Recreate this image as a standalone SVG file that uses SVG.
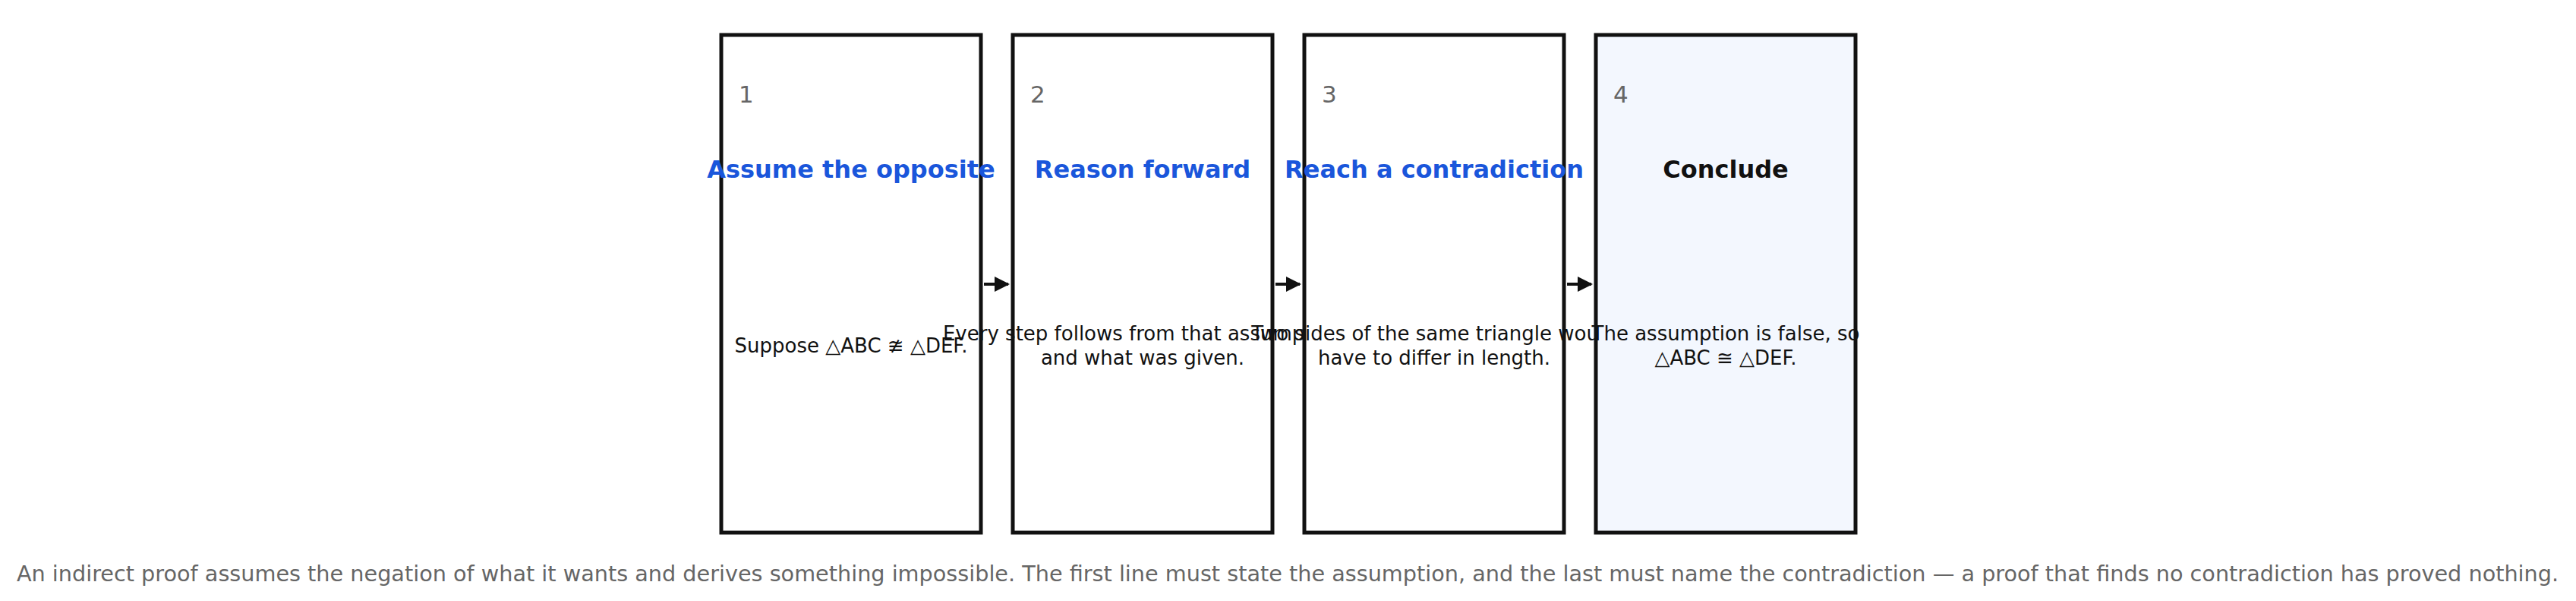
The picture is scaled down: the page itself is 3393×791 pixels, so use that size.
<svg xmlns="http://www.w3.org/2000/svg" width="3393" height="791" viewBox="0 0 3393 791">
<style>
text{font-family:"DejaVu Sans",sans-serif}
.box{fill:#fff;stroke:#111;stroke-width:5}
.num{font-size:31px;fill:#666}
.title{font-size:32px;font-weight:bold;fill:#1a56db;text-anchor:middle}
.body{font-size:26px;fill:#111;text-anchor:middle}
.cap{font-size:28.7px;fill:#666;text-anchor:middle}
.conn{stroke:#111;stroke-width:4;fill:none}
</style>
<defs><marker id="ah" viewBox="0 0 10 10" refX="9" refY="5" markerWidth="5" markerHeight="5" orient="auto"><path d="M0,0L10,5L0,10z" fill="#111"/></marker></defs>
<rect width="3393" height="791" fill="#fff"/>
<g id="n1"><rect class="box" x="950" y="46" width="342" height="655"/><text class="num" x="973" y="135">1</text><text class="title" x="1121" y="234">Assume the opposite</text><text class="body" x="1121" y="464">Suppose △ABC ≇ △DEF.</text></g>
<g id="n2"><rect class="box" x="1334" y="46" width="342" height="655"/><text class="num" x="1357" y="135">2</text><text class="title" x="1505" y="234">Reason forward</text><text class="body" x="1505" y="448">Every step follows from that assumption</text><text class="body" x="1505" y="480">and what was given.</text></g>
<g id="n3"><rect class="box" x="1718" y="46" width="342" height="655"/><text class="num" x="1741" y="135">3</text><text class="title" x="1889" y="234">Reach a contradiction</text><text class="body" x="1889" y="448">Two sides of the same triangle would</text><text class="body" x="1889" y="480">have to differ in length.</text></g>
<g id="n4"><rect class="box" x="2102" y="46" width="342" height="655" style="fill:#f3f7fe"/><text class="num" x="2125" y="135">4</text><text class="title" x="2273" y="234" style="fill:#111">Conclude</text><text class="body" x="2273" y="448">The assumption is false, so</text><text class="body" x="2273" y="480">△ABC ≅ △DEF.</text></g>
<g id="connectors">
<line class="conn" x1="1296" y1="374" x2="1328" y2="374" marker-end="url(#ah)"/>
<line class="conn" x1="1680" y1="374" x2="1712" y2="374" marker-end="url(#ah)"/>
<line class="conn" x1="2064" y1="374" x2="2096" y2="374" marker-end="url(#ah)"/>
</g>
<text class="cap" x="1696" y="765">An indirect proof assumes the negation of what it wants and derives something impossible. The first line must state the assumption, and the last must name the contradiction — a proof that finds no contradiction has proved nothing.</text>
</svg>
